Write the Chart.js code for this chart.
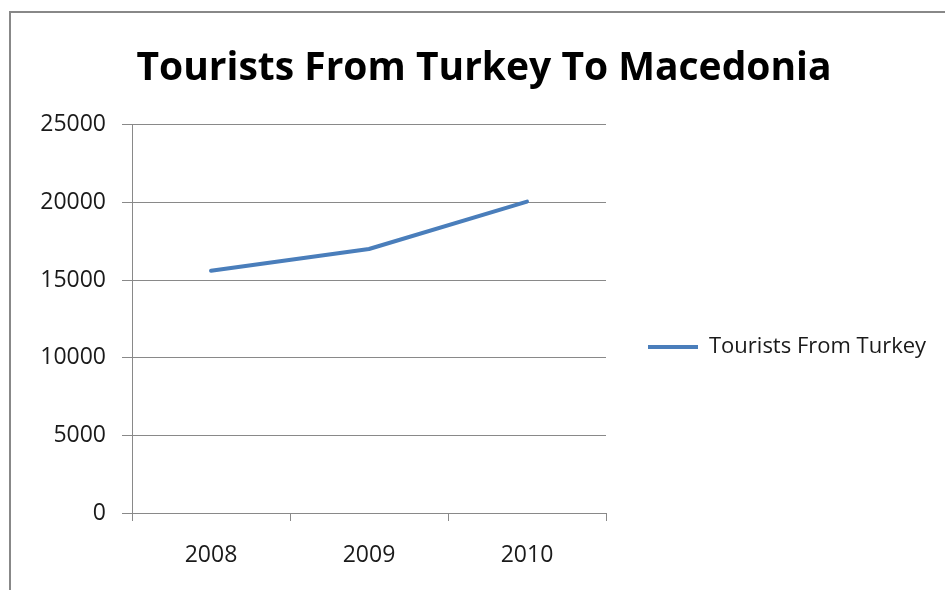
<!DOCTYPE html>
<html>
<head>
<meta charset="utf-8">
<script src="https://cdn.jsdelivr.net/npm/chart.js@4.4.1/dist/chart.umd.min.js"></script>
<style>
  html, body { margin: 0; padding: 0; background: #fff; }
  #wrap { position: relative; width: 945px; height: 590px; overflow: hidden; }
  #frame { position: absolute; left: 9px; top: 11px; width: 960px; height: 620px; border: 2px solid #888; }
  #chart { position: absolute; left: 0; top: 0; }
</style>
</head>
<body>
<div id="wrap">
  <div id="frame"></div>
  <canvas id="chart" width="945" height="590"></canvas>
</div>
<script>
const years = ['2008', '2009', '2010'];
const touristsFromTurkey = [15600, 17000, 20050];
const yTicks = [0, 5000, 10000, 15000, 20000, 25000];

const gray = '#898989';
const blue = '#4a7ebb';
const padLeft = 31;
const padRight = 8;

// the legend is capped at a quarter of the width by default, give it the room it has in the picture
const legendWidth = {
    id: 'legendWidth',
    beforeLayout(chart) {
        const legend = chart.legend;
        if (legend && !legend._wideFit) {
            const fit = legend.fit.bind(legend);
            legend.fit = function () {
                fit();
                this.width = 945 - 606 - padRight;
            };
            legend._wideFit = true;
        }
    },
};

new Chart(document.getElementById('chart'), {
    type: 'line',
    data: {
        labels: years,
        datasets: [
            {
                label: 'Tourists From Turkey',
                data: touristsFromTurkey,
                borderColor: blue,
                backgroundColor: blue,
                borderWidth: 4,
                borderCapStyle: 'round',
                borderJoinStyle: 'round',
                pointRadius: 0,
                tension: 0,
            },
        ],
    },
    plugins: [legendWidth],
    options: {
        responsive: false,
        animation: false,
        layout: {
            padding: { left: padLeft, right: padRight, top: 0, bottom: 0 },
        },
        plugins: {
            title: {
                display: true,
                text: 'Tourists From Turkey To Macedonia',
                color: '#000',
                font: { family: 'Open Sans', size: 39, weight: 'bold' },
                padding: { top: 45, bottom: 33 },
            },
            legend: {
                position: 'right',
                fullSize: false,
                align: 'center',
                title: { display: true, text: '', padding: { top: 42, bottom: 0 } },
                labels: {
                    usePointStyle: true,
                    pointStyle: 'line',
                    pointStyleWidth: 50,
                    padding: 42,
                    color: '#1a1a1a',
                    font: { family: 'Open Sans', size: 22 },
                },
            },
            tooltip: { enabled: false },
        },
        scales: {
            x: {
                type: 'category',
                offset: true,
                grid: {
                    offset: true,
                    drawOnChartArea: false,
                    drawTicks: true,
                    tickLength: 8,
                    color: gray,
                },
                border: { display: true, color: gray },
                ticks: {
                    color: '#1a1a1a',
                    padding: 21,
                    font: { family: 'Open Sans', size: 23 },
                },
                afterFit: (scale) => { scale.height = 77; },
            },
            y: {
                min: 0,
                max: 25000,
                afterBuildTicks: (scale) => {
                    scale.ticks = yTicks.map((v) => ({ value: v }));
                },
                grid: {
                    color: gray,
                    tickLength: 10,
                },
                border: { display: true, color: gray },
                ticks: {
                    color: '#1a1a1a',
                    padding: 16,
                    font: { family: 'Open Sans', size: 23 },
                    callback: (value) => String(value),
                },
                afterFit: (scale) => { scale.width = 132 - padLeft; },
            },
        },
    },
});
</script>
</body>
</html>
